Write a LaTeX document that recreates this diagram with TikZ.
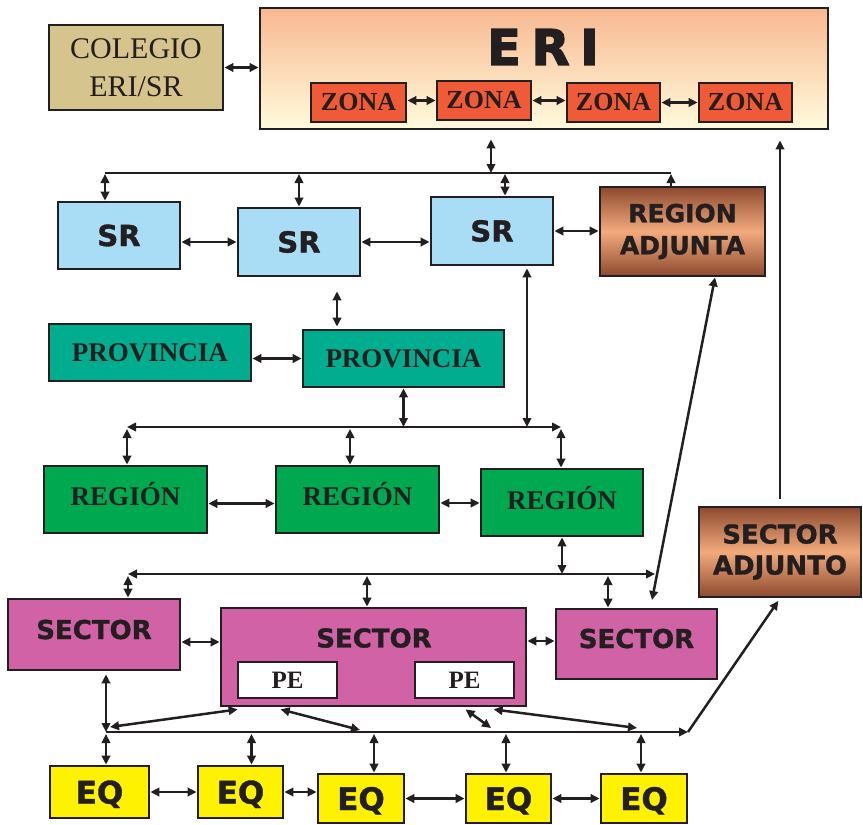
\documentclass[tikz,border=0pt]{standalone}
\usepackage{fontspec}
\setmainfont{Liberation Serif}
\newfontfamily\hsans{DejaVu Sans}[BoldFeatures={FakeBold=1.2}]
\newfontfamily\hsansheavy{DejaVu Sans Bold}[FakeBold=3]
\usetikzlibrary{arrows.meta,shadings}
\definecolor{ink}{HTML}{231F20}
\definecolor{colegio}{HTML}{D5C48B}
\definecolor{eritop}{HTML}{F8B891}
\definecolor{eribot}{HTML}{FFFBDC}
\definecolor{zona}{HTML}{F15A37}
\definecolor{srblue}{HTML}{A9DDF5}
\definecolor{brownD}{HTML}{8E4A30}
\definecolor{brownL}{HTML}{F2AA7C}
\definecolor{prov}{HTML}{00AE8F}
\definecolor{reg}{HTML}{00A84F}
\definecolor{sect}{HTML}{D062A5}
\definecolor{eqy}{HTML}{FFF200}
\begin{document}
\begin{tikzpicture}[x=1pt,y=-1pt,
  box/.style={draw=ink, line width=2.8pt, inner sep=0pt, align=center, text=ink},
  serifr/.style={font=\fontsize{30}{38}\selectfont},
  serifb/.style={font=\fontsize{27}{30}\selectfont\bfseries},
  zonaf/.style={font=\fontsize{26}{28}\selectfont\bfseries},
  sansb/.style={font=\hsans\bfseries\fontsize{#1}{#1}\selectfont},
  lnk/.style={draw=ink, line width=2.5pt},
  con/.style={lnk, <->},
  >={Triangle[length=9pt,width=8.5pt]}]
\useasboundingbox (0,0) rectangle (863,825);

% ---- top row
\node[box, fill=colegio, minimum width=174pt, minimum height=85pt, serifr] (colegio) at (136,67.5) {COLEGIO\\ERI/SR};
\node[box, top color=eritop, bottom color=eribot, minimum width=568pt, minimum height=121pt] (eri) at (544,68.5) {};
\node[font=\hsansheavy\fontsize{49}{49}\selectfont, text=ink] (eritxt) at (543,47) {E\hspace{11pt}R\hspace{11pt}I};
\node[box, fill=zona, minimum width=95pt, minimum height=39pt, zonaf] (z1) at (358.5,102.5) {ZONA};
\node[box, fill=zona, minimum width=94pt, minimum height=39pt, zonaf] (z2) at (484,100.5) {ZONA};
\node[box, fill=zona, minimum width=93pt, minimum height=39pt, zonaf] (z3) at (613.5,102.5) {ZONA};
\node[box, fill=zona, minimum width=93pt, minimum height=39pt, zonaf] (z4) at (745.5,102.5) {ZONA};

% ---- SR row
\node[box, fill=srblue, minimum width=122pt, minimum height=67pt, sansb=29] (sr1) at (119,235.5) {SR};
\node[box, fill=srblue, minimum width=122pt, minimum height=68pt, sansb=29] (sr2) at (299,242) {SR};
\node[box, fill=srblue, minimum width=122pt, minimum height=68pt, sansb=29] (sr3) at (492,231) {SR};
\node[box, top color=brownD, bottom color=brownD, middle color=brownL, minimum width=165pt, minimum height=89pt, font=\hsans\bfseries\fontsize{25}{32}\selectfont] (ra) at (682.5,231.5) {REGION\\ADJUNTA};

% ---- provincia
\node[box, fill=prov, minimum width=202pt, minimum height=57pt, serifb] (p1) at (150,352.5) {PROVINCIA};
\node[box, fill=prov, minimum width=201pt, minimum height=57pt, serifb] (p2) at (403.5,358.5) {PROVINCIA};

% ---- region
\node[box, fill=reg, minimum width=163pt, minimum height=67pt, serifb, text height=18pt, text depth=7pt] (r1) at (125.5,499.5) {REGIÓN};
\node[box, fill=reg, minimum width=163pt, minimum height=67pt, serifb, text height=18pt, text depth=7pt] (r2) at (357.5,499.5) {REGIÓN};
\node[box, fill=reg, minimum width=162pt, minimum height=67pt, serifb, text height=18pt, text depth=5pt] (r3) at (562,502.5) {REGIÓN};

% ---- sector adjunto
\node[box, top color=brownD, bottom color=brownD, middle color=brownL, minimum width=162pt, minimum height=90pt, font=\hsans\bfseries\fontsize{26}{31}\selectfont] (sa) at (780,552) {SECTOR\\ADJUNTO};

% ---- sectors
\node[box, fill=sect, minimum width=172pt, minimum height=71pt, sansb=26, text height=19pt, text depth=10pt] (s1) at (94,634.5) {SECTOR};
\node[box, fill=sect, minimum width=305pt, minimum height=98pt] (s2) at (373.5,657) {};
\node[sansb=26, text=ink] (s2txt) at (374,638) {SECTOR};
\node[box, fill=white, minimum width=99pt, minimum height=36pt, font=\fontsize{25}{26}\selectfont\bfseries] (pe1) at (287.5,680) {PE};
\node[box, fill=white, minimum width=99pt, minimum height=36pt, font=\fontsize{25}{26}\selectfont\bfseries] (pe2) at (464.5,680) {PE};
\node[box, fill=sect, minimum width=161pt, minimum height=70pt, sansb=26, text height=19pt, text depth=11pt] (s3) at (636.5,644) {SECTOR};

% ---- EQ
\node[box, fill=eqy, minimum width=99pt, minimum height=52pt, sansb=31, text height=23pt, text depth=0pt] (eq1) at (99.5,792) {EQ};
\node[box, fill=eqy, minimum width=85pt, minimum height=52pt, sansb=31, text height=23pt, text depth=0pt] (eq2) at (240.5,792) {EQ};
\node[box, fill=eqy, minimum width=86pt, minimum height=49pt, sansb=31, text height=23pt, text depth=0pt] (eq3) at (361,798.5) {EQ};
\node[box, fill=eqy, minimum width=85pt, minimum height=49pt, sansb=31, text height=23pt, text depth=0pt] (eq4) at (508.5,798.5) {EQ};
\node[box, fill=eqy, minimum width=86pt, minimum height=49pt, sansb=31, text height=23pt, text depth=0pt] (eq5) at (644,798.5) {EQ};

% ---- bus coordinates
\coordinate (b1L) at (105,173);
\coordinate (b1R) at (671,173);
\coordinate (b1m) at (491,173);
\coordinate (b1c) at (505,173);
\coordinate (b2L) at (127,427);
\coordinate (b2R) at (561,427);
\coordinate (b2m) at (350,427);
\coordinate (b3L) at (128,574);
\coordinate (b3R) at (655,574);
\coordinate (b3m) at (367,574);
\coordinate (b3n) at (608,574);
\coordinate (b4L) at (106,732);
\coordinate (b4R) at (688,732);
\coordinate (raend) at (652,600);
\coordinate (d1) at (110,727);
\coordinate (d2) at (360,730);
\coordinate (d3) at (491,728);
\coordinate (d4) at (637,728);
\coordinate (e2) at (251.5,732);
\coordinate (e3) at (374,732);
\coordinate (e4) at (506,732);
\coordinate (e5) at (641,732);

% ---- top connectors
\draw[con] (colegio.east) -- (colegio.east -| eri.west);
\draw[con] (z1.east |- z2.west) -- (z2.west);
\draw[con] (z2.east) -- (z2.east -| z3.west);
\draw[con] (z3.east) -- (z3.east -| z4.west);
\draw[con, shorten <=9pt] (b1m |- eri.south) -- (b1m);
\draw[lnk] (b1L) -- (b1R);
\draw[con, shorten <=1pt] (b1L) -- (b1L |- sr1.north);
\draw[con, shorten <=1pt] (sr2.north |- b1L) -- (sr2.north);
\draw[con, shorten <=1pt] (b1c) -- (b1c |- sr3.north);
\draw[lnk, ->, shorten >=1pt] (b1R |- ra.north) -- (b1R);

% ---- SR row connectors
\draw[con] (sr1.east |- sr2.west) -- (sr2.west);
\draw[con] (sr2.east) -- (sr2.east -| sr3.west);
\draw[con] (sr3.east) -- (sr3.east -| ra.west);
\draw[con, shorten <=14pt, shorten >=2pt] ([xshift=38pt]sr2.south) -- ([xshift=38pt]sr2.south |- p2.north);
\draw[con] (p1.east |- p2.west) -- (p2.west);

% ---- region bus
\draw[con] (p2.south) -- (p2.south |- b2L);
\draw[con, shorten <=2pt] ([xshift=35pt]sr3.south) -- ([xshift=35pt]sr3.south |- b2L);
\draw[con] (b2L) -- (b2R);
\draw[con, shorten <=2pt] (b2L) -- (b2L |- r1.north);
\draw[con, shorten <=2pt] (b2m) -- (b2m |- r2.north);
\draw[con, shorten <=2pt] (b2R) -- (b2R |- r3.north);
\draw[con] ([yshift=-4pt]r1.east) -- ([yshift=-4pt]r1.east -| r2.west);
\draw[con] ([yshift=-3.5pt]r2.east) -- ([yshift=-3.5pt]r2.east -| r3.west);

% ---- sector bus
\draw[con] (r3.south) -- (r3.south |- b3L);
\draw[con] (b3L) -- (b3R);
\draw[con, shorten <=2pt] (b3L) -- (b3L |- s1.north);
\draw[con, shorten <=2pt] (b3m) -- (b3m |- s2.north);
\draw[con, shorten <=2pt] (b3n) -- (b3n |- s3.north);
\draw[con] ([xshift=32.5pt]ra.south) -- (raend);
\draw[con] ([yshift=-7.5pt]s1.east) -- ([yshift=-7.5pt]s1.east -| s2.west);
\draw[con] ([yshift=3pt]s3.west -| s2.east) -- ([yshift=3pt]s3.west);

% ---- lower bus
\draw[con, shorten <=3pt] (b4L |- s1.south) -- (b4L);
\draw[lnk, ->] (b4L) -- (b4R);
\draw[lnk, ->, shorten >=3pt] (b4R) -- (sa.south);
\draw[con] ([xshift=18pt,yshift=-2pt]s2.south west) -- (d1);
\draw[con] ([xshift=61pt,yshift=-2pt]s2.south west) -- (d2);
\draw[con] ([xshift=246pt,yshift=-2pt]s2.south west) -- (d3);
\draw[con] ([xshift=274pt,yshift=-2pt]s2.south west) -- (d4);
\draw[con, shorten <=2pt] (b4L) -- (b4L |- eq1.north);
\draw[con, shorten <=2pt] (e2) -- (e2 |- eq2.north);
\draw[con, shorten <=2pt] (e3) -- (e3 |- eq3.north);
\draw[con, shorten <=2pt] (e4) -- (e4 |- eq4.north);
\draw[con, shorten <=2pt] (e5) -- (e5 |- eq5.north);

% ---- EQ row
\draw[con] (eq1.east) -- (eq1.east -| eq2.west);
\draw[con] (eq2.east) -- (eq2.east -| eq3.west);
\draw[con] (eq3.east) -- (eq3.east -| eq4.west);
\draw[con] (eq4.east) -- (eq4.east -| eq5.west);

% ---- sector adjunto to ERI
\draw[lnk, ->, shorten <=-1pt, shorten >=10pt] ([yshift=8pt]sa.north) -- (sa.north |- eri.south);
\end{tikzpicture}
\end{document}
